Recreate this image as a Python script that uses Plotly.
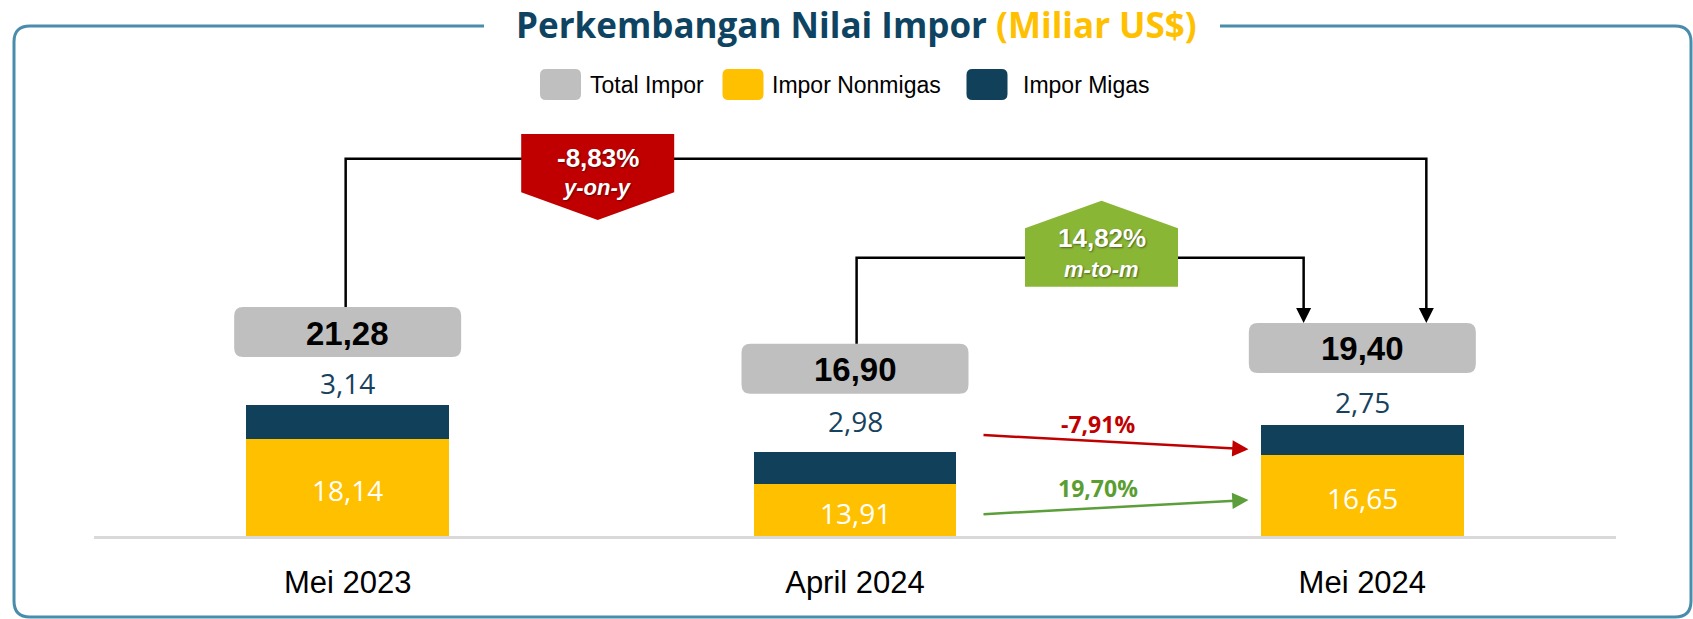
import plotly.graph_objects as go

# ---------------- data ----------------
categories = ["Mei 2023", "April 2024", "Mei 2024"]
nonmigas = [18.14, 13.91, 16.65]
migas = [3.14, 2.98, 2.75]
total = [21.28, 16.90, 19.40]
yoy_change = -8.83      # Mei 2024 vs Mei 2023
mtm_change = 14.82      # Mei 2024 vs April 2024
migas_mtm = -7.91
nonmigas_mtm = 19.70
legend_names = ["Total Impor", "Impor Nonmigas", "Impor Migas"]

# ---------------- style ----------------
W, H = 1693, 619
L, R, T, B = 94, 1616, 40, 536
YMIN = 9
PPU = 10.65
YMAX = YMIN + (B - T) / PPU

NAVY = "#10405A"
YELLOW = "#FFC000"
GRAY = "#BFBFBF"
RED = "#C00000"
GREEN = "#8AB636"
GREEN_TXT = "#5A9E32"
TITLE = "#0E4461"
FRAME = "#4A8CAB"
NARROW = "Liberation Sans, Arial, sans-serif"
SANS = "Open Sans, Noto Sans, sans-serif"

box_gap = [73.2, 83.2, 77.3]      # px from bar top to total-box centre
migas_gap = [22.4, 31.0, 23.3]    # px from bar top to migas label centre


def fmt(v, pct=False):
    s = f"{v:.2f}".replace(".", ",")
    return s + "%" if pct else s


def xpix(xv):
    return L + (xv + 0.5) * (R - L) / 3


def ypix(yv):
    return B - (yv - YMIN) * PPU


def px(x):
    return (x - L) / (R - L)


def py(y):
    return (B - y) / (B - T)


def path(cmds):
    out = []
    for c in cmds:
        if c[0] in ("M", "L"):
            out.append(f"{c[0]} {px(c[1]):.5f},{py(c[2]):.5f}")
        elif c[0] == "Q":
            out.append(f"Q {px(c[1]):.5f},{py(c[2]):.5f} {px(c[3]):.5f},{py(c[4]):.5f}")
        elif c[0] == "Z":
            out.append("Z")
    return " ".join(out)


def rrect(x0, y0, x1, y1, r):
    return path([("M", x0 + r, y0), ("L", x1 - r, y0), ("Q", x1, y0, x1, y0 + r),
                 ("L", x1, y1 - r), ("Q", x1, y1, x1 - r, y1), ("L", x0 + r, y1),
                 ("Q", x0, y1, x0, y1 - r), ("L", x0, y0 + r), ("Q", x0, y0, x0 + r, y0), ("Z",)])


xs = list(range(len(categories)))
fig = go.Figure()
fig.add_trace(go.Bar(x=xs, y=nonmigas, name=legend_names[1], marker_color=YELLOW,
                     width=0.4, marker_line_width=0))
fig.add_trace(go.Bar(x=xs, y=migas, name=legend_names[2], marker_color=NAVY,
                     width=0.4, marker_line_width=0))

shapes = []
annotations = []

# frame
shapes.append(dict(type="path", xref="paper", yref="paper",
                   path=path([("M", 484, 26), ("L", 30, 26), ("Q", 14, 26, 14, 42),
                              ("L", 14, 601), ("Q", 14, 617, 30, 617), ("L", 1675, 617),
                              ("Q", 1691, 617, 1691, 601), ("L", 1691, 42),
                              ("Q", 1691, 26, 1675, 26), ("L", 1220, 26)]),
                   line=dict(color=FRAME, width=3), layer="below"))

# title
annotations.append(dict(xref="paper", yref="paper", x=px(857), y=py(24), xanchor="center",
                        yanchor="middle", showarrow=False,
                        text=f"<b>Perkembangan Nilai Impor <span style='color:{YELLOW}'>(Miliar US$)</span></b>",
                        font=dict(family=SANS, size=35, color=TITLE)))

# legend
leg = [(540, 587.5, GRAY), (722.5, 770, YELLOW), (966.5, 1020.5, NAVY)]
for (sx, tx, col), name in zip(leg, legend_names):
    shapes.append(dict(type="path", xref="paper", yref="paper",
                       path=rrect(sx, 69, sx + 41, 100, 6), fillcolor=col, line=dict(width=0)))
    annotations.append(dict(xref="paper", yref="paper", x=px(tx), y=py(85), xanchor="left",
                            yanchor="middle", showarrow=False, text=name,
                            font=dict(family=NARROW, size=23, color="black")))

# totals, labels
box_c = []
for i in xs:
    cx = xpix(i)
    top = ypix(nonmigas[i] + migas[i])
    cy = top - box_gap[i]
    box_c.append((cx, cy))
    shapes.append(dict(type="path", xref="paper", yref="paper",
                       path=rrect(cx - 113.5, cy - 25, cx + 113.5, cy + 25, 9),
                       fillcolor=GRAY, line=dict(width=0)))
    annotations.append(dict(xref="paper", yref="paper", x=px(cx), y=py(cy + 1), showarrow=False,
                            xanchor="center", yanchor="middle", text=f"<b>{fmt(total[i])}</b>",
                            font=dict(family=NARROW, size=33, color="black")))
    annotations.append(dict(xref="x", yref="y", x=i, y=nonmigas[i] + migas[i], yshift=migas_gap[i],
                            showarrow=False, xanchor="center", yanchor="middle", text=fmt(migas[i]),
                            font=dict(family=SANS, size=28, color="#17425E")))
    annotations.append(dict(xref="x", yref="y", x=i, y=(YMIN + nonmigas[i]) / 2, yshift=-3,
                            showarrow=False, xanchor="center", yanchor="middle", text=fmt(nonmigas[i]),
                            font=dict(family=SANS, size=28, color="white")))

# connectors
def connector(x_from, y_from, y_line, x_to, y_to):
    shapes.append(dict(type="path", xref="paper", yref="paper",
                       path=path([("M", x_from, y_from), ("L", x_from, y_line),
                                  ("L", x_to, y_line), ("L", x_to, y_to - 14)]),
                       line=dict(color="black", width=2.5)))
    shapes.append(dict(type="path", xref="paper", yref="paper",
                       path=path([("M", x_to - 7.5, y_to - 15), ("L", x_to + 7.5, y_to - 15),
                                  ("L", x_to, y_to), ("Z",)]),
                       fillcolor="black", line=dict(width=0)))

box_top = [c[1] - 25 for c in box_c]
connector(box_c[0][0] - 2, box_top[0], 158.7, box_c[2][0] + 64, box_top[2])
connector(box_c[1][0] + 1.6, box_top[1], 257.7, box_c[2][0] - 58.7, box_top[2])

# badges
shadow = "1px 1px 2px rgba(0,0,0,0.45)"
rx = 597.7
shapes.append(dict(type="path", xref="paper", yref="paper",
                   path=path([("M", rx - 76.5, 134), ("L", rx + 76.5, 134), ("L", rx + 76.5, 192.3),
                              ("L", rx, 220), ("L", rx - 76.5, 192.3), ("Z",)]),
                   fillcolor=RED, line=dict(width=0)))
annotations.append(dict(xref="paper", yref="paper", x=px(rx), y=py(158), showarrow=False,
                        xanchor="center", yanchor="middle", text=f"<b>{fmt(yoy_change, True)}</b>",
                        font=dict(family=NARROW, size=26, color="white", shadow=shadow)))
annotations.append(dict(xref="paper", yref="paper", x=px(rx), y=py(188), showarrow=False,
                        xanchor="center", yanchor="middle", text="<b><i>y-on-y</i></b>",
                        font=dict(family=NARROW, size=22, color="white", shadow=shadow)))
gx = 1101.5
shapes.append(dict(type="path", xref="paper", yref="paper",
                   path=path([("M", gx, 200.7), ("L", gx + 76.5, 228.3), ("L", gx + 76.5, 286.7),
                              ("L", gx - 76.5, 286.7), ("L", gx - 76.5, 228.3), ("Z",)]),
                   fillcolor=GREEN, line=dict(width=0)))
annotations.append(dict(xref="paper", yref="paper", x=px(gx), y=py(238), showarrow=False,
                        xanchor="center", yanchor="middle", text=f"<b>{fmt(mtm_change, True)}</b>",
                        font=dict(family=NARROW, size=26, color="white", shadow=shadow)))
annotations.append(dict(xref="paper", yref="paper", x=px(gx), y=py(269), showarrow=False,
                        xanchor="center", yanchor="middle", text="<b><i>m-to-m</i></b>",
                        font=dict(family=NARROW, size=22, color="white", shadow=shadow)))

# change arrows
for (x0, y0, x1, y1, col, tcol, val, ty) in [
        (982, 435, 1248.5, 449.3, RED, RED, migas_mtm, 424),
        (982, 514.3, 1248.5, 500, "#5B9E3A", GREEN_TXT, nonmigas_mtm, 488.3)]:
    annotations.append(dict(xref="paper", yref="paper", x=px(x1), y=py(y1),
                            axref="pixel", ayref="pixel", ax=x0 - x1, ay=y0 - y1,
                            showarrow=True, arrowhead=2, arrowsize=1.3, arrowwidth=2.5,
                            arrowcolor=col, text=""))
    annotations.append(dict(xref="paper", yref="paper", x=px(1098), y=py(ty), showarrow=False,
                            xanchor="center", yanchor="middle", text=f"<b>{fmt(val, True)}</b>",
                            font=dict(family=SANS, size=23, color=tcol)))

fig.update_layout(
    width=W, height=H, barmode="stack", showlegend=False,
    margin=dict(l=L, r=W - R, t=T, b=H - B, pad=0),
    plot_bgcolor="white", paper_bgcolor="white",
    xaxis=dict(range=[-0.5, 2.5], tickvals=xs, ticktext=categories, showgrid=False,
               zeroline=False, showline=True, linecolor="#D9D9D9", linewidth=3,
               ticks="", ticklabelstandoff=17, automargin=False,
               tickfont=dict(family=NARROW, size=31, color="black"), fixedrange=True),
    yaxis=dict(range=[YMIN, YMAX], visible=False, fixedrange=True),
    shapes=shapes, annotations=annotations,
)

fig.write_html("out.html", config={"displayModeBar": False},
               post_script="document.body.style.margin='0';document.body.style.overflow='hidden';")
